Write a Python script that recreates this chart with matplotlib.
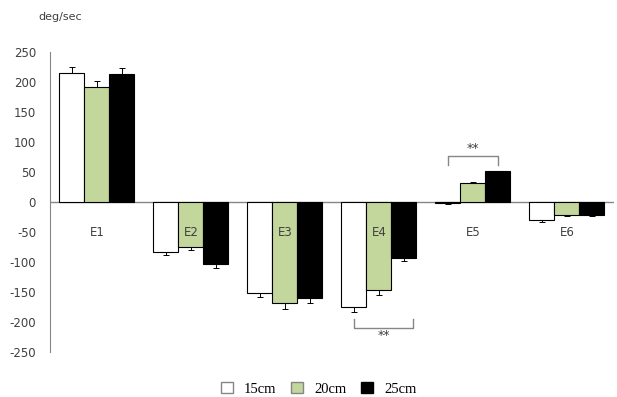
import numpy as np
import matplotlib
matplotlib.use('Agg')
import matplotlib.pyplot as plt
from matplotlib.patches import Patch

plt.rcParams['axes.unicode_minus'] = False

groups = ['E1', 'E2', 'E3', 'E4', 'E5', 'E6']
series = ['15cm', '20cm', '25cm']
v15 = [216, -82, -151, -174, -1, -30]
v20 = [193, -75, -168, -146, 33, -21]
v25 = [214, -103, -160, -92, 52, -21]
e15 = [9, 6, 7, 8, 1, 2]
e20 = [9, 4, 9, 8, 1, 2]
e25 = [10, 7, 7, 6, 1, 1]
yticks = [250, 200, 150, 100, 50, 0, -50, -100, -150, -200, -250]

# significance brackets: (group index, bar from, bar to, leg end, bracket line)
sig = [(4, 0, 2, 62, 77), (3, 0, 2, -194, -209)]

colors = ['white', '#c3d69b', 'black']
grey = '#868686'
txt = '#404040'

fig = plt.figure(figsize=(6.17, 3.97), dpi=100)
ax = fig.add_axes([0.081, 0.1126, 0.914, 0.7555])

x = np.arange(len(groups))
w = 0.266
vals = [v15, v20, v25]
errs = [e15, e20, e25]
for i in range(3):
    v = np.array(vals[i])
    e = np.array(errs[i])
    # error bar only on the side away from zero
    lo = np.where(v < 0, e, 0)
    hi = np.where(v >= 0, e, 0)
    ax.bar(x + (i - 1) * w, v, w, color=colors[i], edgecolor='black',
           linewidth=0.8, yerr=[lo, hi], zorder=3,
           error_kw=dict(ecolor='black', elinewidth=0.7, capsize=2.5, capthick=0.7))

ax.axhline(0, color=grey, linewidth=1, zorder=2)

for g, a, b, leg, top in sig:
    x0 = x[g] + (a - 1) * w
    x1 = x[g] + (b - 1) * w
    if b == 2 and g == 3:
        x1 += 0.1
    ax.plot([x0, x0, x1, x1], [leg, top, top, leg], color=grey, linewidth=1, zorder=4)
    off = 12 if top > leg else -13
    ax.text((x0 + x1) / 2, top + off, '**', ha='center', va='center',
            fontsize=9, color=txt)

for xi, name in zip(x, groups):
    ax.annotate(name, (xi, 0), xytext=(0, -22), textcoords='offset points',
                ha='center', va='center', fontsize=8.5, color=txt)

ax.set_xlim(-0.5, len(groups) - 0.5)
ax.set_ylim(-250, 250)
ax.set_yticks(yticks)
ax.tick_params(axis='y', length=0, pad=10, labelsize=8.5, labelcolor=txt)
ax.set_xticks([])
for s in ['top', 'right', 'bottom']:
    ax.spines[s].set_visible(False)
ax.spines['left'].set_color(grey)

fig.text(0.097, 0.957, 'deg/sec', ha='center', va='center', fontsize=8, color=txt)

handles = [Patch(facecolor=colors[0], edgecolor=grey),
           Patch(facecolor=colors[1], edgecolor=grey),
           Patch(facecolor=colors[2], edgecolor='black')]
fig.legend(handles, series, loc='center', bbox_to_anchor=(0.517, 0.02),
           ncol=3, frameon=False, handlelength=0.8, handleheight=0.8,
           handletextpad=0.8, columnspacing=1.0,
           prop={'family': 'Liberation Serif', 'size': 10.5})

fig.savefig('out.png', dpi=100)
